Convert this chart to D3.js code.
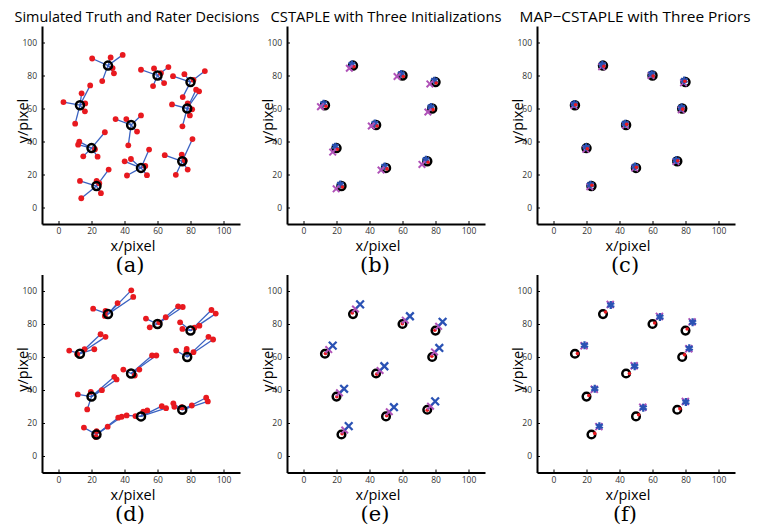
<!DOCTYPE html>
<html>
<head>
<meta charset="utf-8">
<script src="https://cdn.jsdelivr.net/npm/d3@7"></script>
<style>
body { margin: 0; background: #fff; }
svg { display: block; }
.axis text { font-family: "Open Sans", sans-serif; font-size: 8.5px; fill: #333; }
.axis .domain { stroke: #000; stroke-width: 2; }
.axis line { stroke: #000; stroke-width: 1; }
</style>
</head>
<body>
<svg id="chart" width="758" height="525"></svg>
<script>
// ground truth landmarks (same in every panel)
var truthX = [30, 60, 80, 13, 78, 44, 20, 50, 75, 23];
var truthY = [86, 80, 76, 62, 60, 50, 36, 24, 28, 13];

var tickVals = [0, 20, 40, 60, 80, 100];

var titles = ["Simulated Truth and Rater Decisions", "CSTAPLE with Three Initializations", "MAP\u2212CSTAPLE with Three Priors"];
var panelTags = ["(a)", "(b)", "(c)", "(d)", "(e)", "(f)"];

// rater decisions, one list per landmark (random errors)
var ratersA = [
    [[20.4, 90.3], [31.6, 90.9], [38.9, 92.5], [32.8, 84.5], [33.6, 81.3], [26.5, 76.6]],
    [[50, 83.5], [57.9, 84.3], [66.6, 85.1], [62.1, 81.5], [64, 75.4], [57.3, 73.6]],
    [[69.4, 79.6], [76.3, 80.8], [88.7, 82.7], [81.8, 77.4], [75.3, 66.9]],
    [[3, 63.9], [14, 69.2], [19.2, 74], [16.2, 63.1], [16, 58.3], [10.1, 50.8]],
    [[68.8, 62.5], [78.3, 63.1], [81, 59.5], [79.6, 55.8], [75.1, 49.2], [83.4, 71.4], [85.2, 70.4]],
    [[34.6, 53.6], [41.1, 53.6], [50, 55.8], [47.6, 46], [42.3, 37.7]],
    [[12.6, 39.9], [11.9, 38.1], [28.1, 45.6], [22.1, 35.3], [23.7, 30.8], [15, 31]],
    [[40.1, 28], [43.9, 29.4], [54.9, 35.1], [52.6, 25.2], [53.6, 19.6], [41.5, 19.4]],
    [[64.4, 31.7], [74.7, 32.1], [81.2, 41.5], [76.5, 28.6], [78.3, 23], [71.1, 19.8]],
    [[13, 16.1], [23.1, 16.1], [30.4, 23], [24.7, 14.7], [25.7, 8.7], [13.8, 5.6]]
];

// rater decisions with a systematic shift
var ratersD = [
    [[21, 89.3], [28.5, 87.9], [28.1, 84.9], [35.8, 92.7], [44.1, 100.4], [45.3, 96.4]],
    [[53, 83.3], [55.3, 78], [61.1, 81], [65, 84.1], [72.5, 90.7], [75.3, 90.3]],
    [[73.7, 81], [75.1, 77], [82.4, 77.8], [85.4, 79], [92.7, 88.5], [95.3, 86.3]],
    [[6.5, 63.9], [11.3, 61.7], [15.8, 64.7], [21.7, 64.7], [25.5, 73.8], [28.5, 72.2]],
    [[71.3, 63.9], [77.7, 64.9], [77.5, 63.3], [81.8, 62.9], [90.9, 72.2], [93.7, 70.6]],
    [[39.3, 52.4], [46.2, 48.8], [49, 52.4], [56.7, 60.9], [59.3, 60.9]],
    [[11.7, 37.3], [19.6, 38.9], [17.4, 28.2], [26.3, 39.9], [33.8, 48], [35.2, 46.4]],
    [[41.3, 24.6], [46.6, 24.2], [51.4, 26.9], [53.8, 27.6], [62.6, 30.2], [65.2, 29]],
    [[69.6, 31.9], [70.2, 29.8], [74.7, 29.6], [80.8, 30.6], [89.5, 35.3], [90.5, 33.1]],
    [[15.4, 17.2], [23.1, 15.1], [22.6, 11.5], [29.8, 17.8], [36.2, 23.2], [38.3, 23.8]]
];

// estimates: (b) CSTAPLE, random errors
var estBRed = [[30.6, 85.3], [60.5, 79.4], [80.4, 75.5], [13.6, 61.4], [78.5, 59.3], [44.6, 49.4], [20.5, 35.3], [50.6, 23.4], [75.5, 27.4], [23.6, 12.4]];
var estBBlue = [[29.3, 86.8], [59.2, 81], [79.3, 77], [12.2, 63], [77.2, 61], [43.2, 51], [19.3, 37], [49.2, 25], [74.2, 29], [22.3, 14]];
var estBPurple = [[27.8, 84.4], [56.7, 79.4], [76.6, 74.9], [10.3, 61.1], [75.4, 57.9], [41.1, 49.4], [17.7, 33.6], [47, 22.7], [71.8, 26.1], [19.8, 11.3]];

// (c) MAP-CSTAPLE, random errors
var estCRed = [[30.5, 85.6], [60.4, 79.7], [79.6, 76.5], [13.4, 62.3], [78.3, 59.6], [44.3, 50.4], [20.5, 35.6], [50.2, 24.4], [75.3, 28.3], [23.3, 13.5]];
var estCBlue = [[29.6, 86.6], [59.5, 80.9], [79.2, 77], [12.6, 62.8], [77.6, 60.6], [43.4, 50.9], [19.8, 36.6], [49.4, 24.9], [74.4, 28.7], [22.4, 13.8]];
var estCPurple = [[29.2, 85.3], [59.1, 80], [78.8, 75.6], [12.4, 61.8], [77.4, 59.2], [43.6, 49.8], [19.6, 35.2], [49.2, 23.9], [74.2, 27.8], [22, 12.6]];

// (e) CSTAPLE, shifted errors
var estERed = [[29.6, 86.7], [59.9, 80.2], [79.6, 76.2], [13.3, 62.1], [77.8, 60.5], [44.4, 49.6], [20.2, 35.9], [50.4, 24.4], [75, 27.8], [23.4, 13.5]];
var estEBlue = [[34.3, 91.9], [64.5, 84.7], [84.3, 81.3], [17.7, 66.9], [82.3, 65.5], [49, 54.4], [24.6, 40.7], [54.8, 29.6], [79.8, 33.1], [27.4, 18.1]];
var estEPurple = [[31.5, 89.1], [61.7, 82.3], [81.9, 78.6], [15.3, 64.5], [79.4, 63.1], [46.4, 51.8], [21.8, 38.3], [52, 26.8], [77, 30.2], [25, 15.7]];

// (f) MAP-CSTAPLE, shifted errors
var estFRed = [[31.5, 87.3], [61.3, 80.6], [81, 77], [14.5, 62.1], [79.4, 61.3], [46, 50], [21.4, 36.7], [51.6, 25], [76.6, 28.6], [25, 13.7]];
var estFBlue = [[34.7, 91.5], [64.5, 84.3], [84.3, 81], [18.8, 67.1], [82.3, 65.3], [49.2, 54.4], [25, 40.7], [54.4, 29.2], [80.2, 32.7], [27.8, 18.1]];
var estFPurple = [[34.4, 91.8], [64.2, 84.6], [84, 81.3], [18.5, 66.8], [82, 65], [48.9, 54.7], [24.7, 40.4], [54.1, 29.5], [79.9, 33], [27.5, 17.8]];

var RED = "#e8191f", BLUE = "#2a52b4", PURPLE = "#b052b8", LINE_BLUE = "#3a62c2";

var svg = d3.select("#chart");
var truth = truthX.map(function (d, i) { return [d, truthY[i]]; });

var size = 198;
var lefts = [42, 287, 537],
    bottoms = [224, 472.5],
    titleCenters = [137, 386, 635];

function make_panel(col, row) {
    var left = lefts[col], bottom = bottoms[row];
    var x = d3.scaleLinear().domain([-10, 110]).range([left, left + size]),
        y = d3.scaleLinear().domain([-10, 110]).range([bottom, bottom - size]);

    svg.append("g")
        .attr("class", "axis")
        .attr("transform", "translate(0," + bottom + ")")
        .call(d3.axisBottom(x).tickValues(tickVals).tickSizeInner(-3).tickSizeOuter(0).tickPadding(4));
    svg.append("g")
        .attr("class", "axis")
        .attr("transform", "translate(" + left + ",0)")
        .call(d3.axisLeft(y).tickValues(tickVals).tickSizeInner(-3).tickSizeOuter(0).tickPadding(5));

    // labels
    svg.append("text")
        .attr("x", left + 91)
        .attr("y", bottom + 27)
        .attr("text-anchor", "middle")
        .style("font-family", "Open Sans, sans-serif")
        .style("font-size", "14.5px")
        .text("x/pixel");
    svg.append("text")
        .attr("transform", "translate(" + (left - 14) + "," + (bottom - 103) + ") rotate(-90)")
        .attr("text-anchor", "middle")
        .style("font-family", "Open Sans, sans-serif")
        .style("font-size", "14.5px")
        .text("y/pixel");
    svg.append("text")
        .attr("x", left + 88)
        .attr("y", bottom + 48)
        .attr("text-anchor", "middle")
        .style("font-family", "DejaVu Serif, serif")
        .style("font-weight", 300)
        .style("font-size", "21px")
        .text(panelTags[row * 3 + col]);

    if (row == 0) {
        svg.append("text")
            .attr("x", titleCenters[col])
            .attr("y", 21.5)
            .attr("text-anchor", "middle")
            .attr("textLength", col == 0 ? 245 : 231)
            .attr("lengthAdjust", "spacingAndGlyphs")
            .style("font-family", "Open Sans, sans-serif")
            .style("font-size", "15px")
            .text(titles[col]);
    }

    return {x: x, y: y, g: svg.append("g")};
}

function draw_raters(p, raters) {
    var line = d3.line()
        .x(function (d) { return p.x(d[0]); })
        .y(function (d) { return p.y(d[1]); });
    raters.forEach(function (list, i) {
        list.forEach(function (d) {
            p.g.append("path")
                .attr("d", line([truth[i], d]))
                .style("stroke", LINE_BLUE)
                .style("stroke-width", 1.3)
                .style("fill", "none");
        });
    });
    raters.forEach(function (list) {
        list.forEach(function (d) {
            p.g.append("circle")
                .attr("cx", p.x(d[0]))
                .attr("cy", p.y(d[1]))
                .attr("r", 2.9)
                .style("fill", RED);
        });
    });
}

function draw_truth(p, r, w) {
    truth.forEach(function (d) {
        p.g.append("circle")
            .attr("cx", p.x(d[0]))
            .attr("cy", p.y(d[1]))
            .attr("r", r)
            .style("fill", "none")
            .style("stroke", "#000")
            .style("stroke-width", w);
    });
}

function draw_dots(p, pts, r) {
    pts.forEach(function (d) {
        p.g.append("circle")
            .attr("cx", p.x(d[0]))
            .attr("cy", p.y(d[1]))
            .attr("r", r)
            .style("fill", RED);
    });
}

function draw_symbols(p, pts, type, s, color, w) {
    var sym = d3.symbol().type(type).size(s);
    pts.forEach(function (d) {
        p.g.append("path")
            .attr("transform", "translate(" + p.x(d[0]) + "," + p.y(d[1]) + ")")
            .attr("d", sym())
            .style("fill", "none")
            .style("stroke", color)
            .style("stroke-width", w);
    });
}

// (a)
var pa = make_panel(0, 0);
draw_raters(pa, ratersA);
draw_truth(pa, 4, 2.5);

// (b)
var pb = make_panel(1, 0);
draw_truth(pb, 4, 2.5);
draw_symbols(pb, estBBlue, d3.symbolAsterisk, 40, BLUE, 2.2);
draw_dots(pb, estBRed, 1.8);
draw_symbols(pb, estBPurple, d3.symbolTimes, 30, PURPLE, 2);

// (c)
var pc = make_panel(2, 0);
draw_truth(pc, 4, 2.5);
draw_symbols(pc, estCPurple, d3.symbolTimes, 30, PURPLE, 1.8);
draw_symbols(pc, estCBlue, d3.symbolAsterisk, 42, BLUE, 2.2);
draw_dots(pc, estCRed, 1.8);

// (d)
var pd = make_panel(0, 1);
draw_raters(pd, ratersD);
draw_truth(pd, 4, 2.5);

// (e)
var pe = make_panel(1, 1);
draw_truth(pe, 3.8, 2.5);
draw_dots(pe, estERed, 1.8);
draw_symbols(pe, estEPurple, d3.symbolTimes, 30, PURPLE, 2);
draw_symbols(pe, estEBlue, d3.symbolTimes, 40, BLUE, 2.3);

// (f)
var pf = make_panel(2, 1);
draw_truth(pf, 3.8, 2.5);
draw_dots(pf, estFRed, 1.8);
draw_symbols(pf, estFPurple, d3.symbolTimes, 34, PURPLE, 2);
draw_symbols(pf, estFBlue, d3.symbolAsterisk, 44, BLUE, 2.3);
</script>
</body>
</html>
